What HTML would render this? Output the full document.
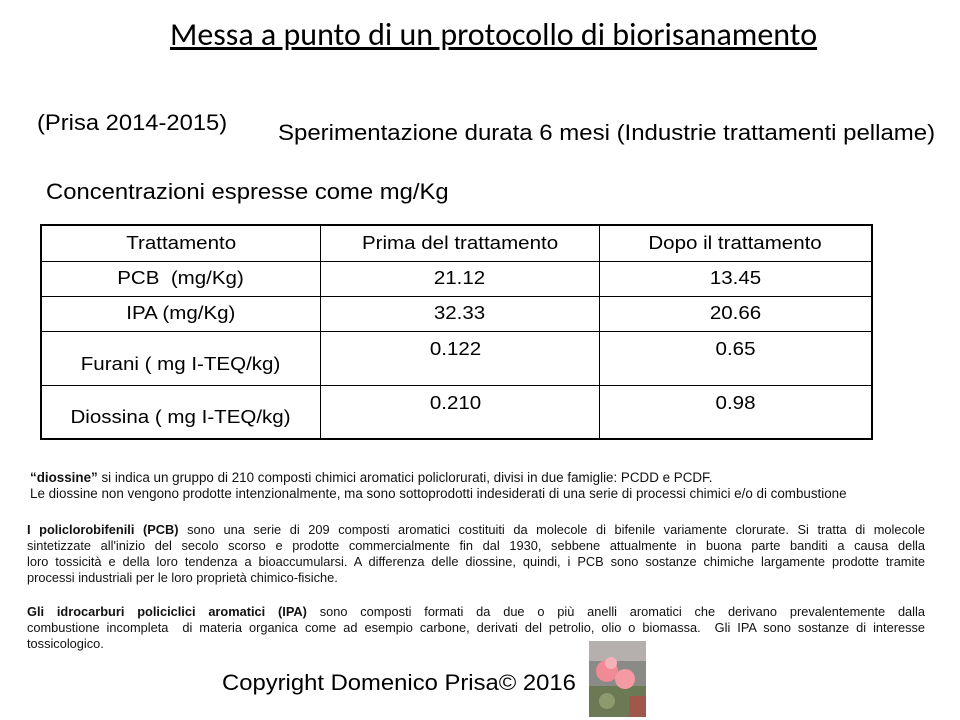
<!DOCTYPE html>
<html><head><meta charset="utf-8"><style>
body{margin:0;width:960px;height:720px;background:#fff;position:relative;overflow:hidden;font-family:"Liberation Sans",Arial,sans-serif;color:#000}
.a{position:absolute;white-space:nowrap;transform-origin:0 0}
table{position:absolute;left:40px;top:224px;width:833px;height:214px;border-collapse:collapse;border:2px solid #000;font-size:18px}
td{border:1px solid #000;text-align:center;padding:0}
td span{display:inline-block;transform:scaleX(1.14)}
.sm{position:absolute;font-family:"Liberation Sans",sans-serif;font-size:12.8px;line-height:16px;color:#111}
.sm div{text-align:justify;text-align-last:justify;white-space:nowrap;height:16px}
</style></head><body>
<div class="a" style="left:170px;top:15px;font-size:32px;text-decoration:underline;font-family:'Carlito','Liberation Sans',sans-serif;">Messa a punto di un protocollo di biorisanamento</div>
<div class="a" style="left:37px;top:110px;font-size:22px;transform:scaleX(1.08)">(Prisa 2014-2015)</div>
<div class="a" style="left:278px;top:120px;font-size:22px;transform:scaleX(1.09)">Sperimentazione durata 6 mesi (Industrie trattamenti pellame)</div>
<div class="a" style="left:46px;top:179px;font-size:22px;transform:scaleX(1.083)">Concentrazioni espresse come mg/Kg</div>
<table>
<tr style="height:36px"><td style="width:278px"><span>Trattamento</span></td><td style="width:278px"><span>Prima del trattamento</span></td><td><span>Dopo il trattamento</span></td></tr>
<tr style="height:35px"><td><span>PCB &nbsp;(mg/Kg)</span></td><td><span>21.12</span></td><td><span>13.45</span></td></tr>
<tr style="height:35px"><td><span>IPA (mg/Kg)</span></td><td><span>32.33</span></td><td><span>20.66</span></td></tr>
<tr style="height:54px"><td style="vertical-align:bottom;padding-bottom:10px"><span>Furani ( mg I-TEQ/kg)</span></td><td style="vertical-align:top;text-align:left;padding:7px 0 0 112px"><span>0.122</span></td><td style="vertical-align:top;text-align:left;padding:7px 0 0 118px"><span>0.65</span></td></tr>
<tr style="height:54px"><td style="vertical-align:bottom;padding-bottom:10px"><span>Diossina ( mg I-TEQ/kg)</span></td><td style="vertical-align:top;text-align:left;padding:7px 0 0 112px"><span>0.210</span></td><td style="vertical-align:top;text-align:left;padding:7px 0 0 118px"><span>0.98</span></td></tr>
</table>
<div class="sm" style="left:30px;top:470px;font-size:13.4px">
<div style="text-align-last:left"><b>“diossine”</b> si indica un gruppo di 210 composti chimici aromatici policlorurati, divisi in due famiglie: PCDD e PCDF.</div>
<div style="text-align-last:left">Le diossine non vengono prodotte intenzionalmente, ma sono sottoprodotti indesiderati di una serie di processi chimici e/o di combustione</div>
</div>
<div class="sm" style="left:27px;top:522px;width:898px">
<div><b>I policlorobifenili (PCB)</b> sono una serie di 209 composti aromatici costituiti da molecole di bifenile variamente clorurate. Si tratta di molecole</div>
<div>sintetizzate all'inizio del secolo scorso e prodotte commercialmente fin dal 1930, sebbene attualmente in buona parte banditi a causa della</div>
<div>loro tossicità e della loro tendenza a bioaccumularsi. A differenza delle diossine, quindi, i PCB sono sostanze chimiche largamente prodotte tramite</div>
<div style="text-align-last:left">processi industriali per le loro proprietà chimico-fisiche.</div>
</div>
<div class="sm" style="left:27px;top:604px;width:898px">
<div><b>Gli idrocarburi policiclici aromatici (IPA)</b> sono composti formati da due o più anelli aromatici che derivano prevalentemente dalla</div>
<div>combustione incompleta &nbsp;di materia organica come ad esempio carbone, derivati del petrolio, olio o biomassa. &nbsp;Gli IPA sono sostanze di interesse</div>
<div style="text-align-last:left">tossicologico.</div>
</div>
<div class="a" style="left:222px;top:670px;font-size:22px;transform:scaleX(1.083)">Copyright Domenico Prisa© 2016</div>
<svg class="a" style="left:589px;top:641px" width="57" height="76" viewBox="0 0 57 76">
<rect width="57" height="76" fill="#8a8a86"/>
<rect x="0" y="0" width="57" height="20" fill="#b5b0ad"/>
<rect x="0" y="45" width="57" height="31" fill="#6b7a55"/>
<circle cx="18" cy="30" r="11" fill="#f08a95"/>
<circle cx="36" cy="38" r="10" fill="#f39aa3"/>
<circle cx="22" cy="22" r="6" fill="#f6b0b8"/>
<circle cx="18" cy="60" r="8" fill="#8d9a70"/>
<rect x="40" y="55" width="17" height="21" fill="#a0584c"/>
</svg>
</body></html>
